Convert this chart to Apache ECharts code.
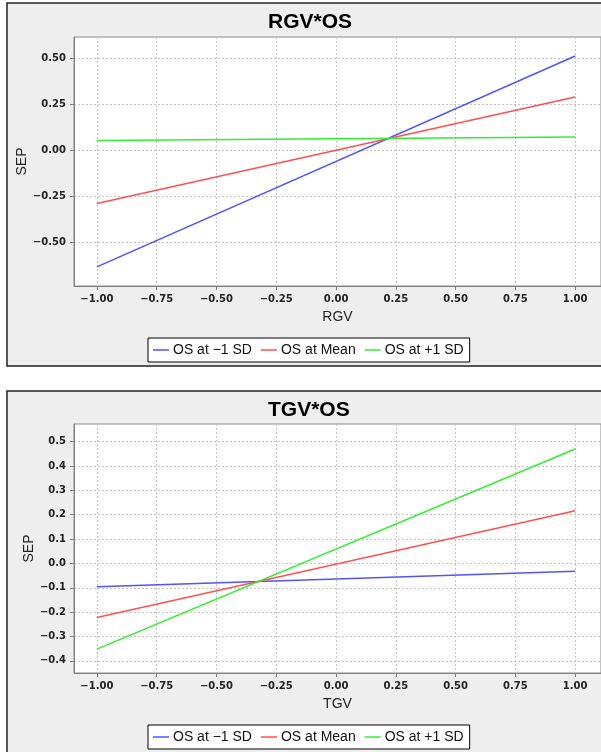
<!DOCTYPE html>
<html>
<head>
<meta charset="utf-8">
<script src="https://cdn.jsdelivr.net/npm/echarts@6/dist/echarts.min.js"></script>
<style>
  html, body { margin: 0; padding: 0; background: #fff; }
  #chart { width: 601px; height: 752px; }
</style>
</head>
<body>
<div id="chart"></div>
<script>
// line end points, x = -1 and x = 1
const xValues = [-1, 1];
const seriesNames = ["OS at \u22121 SD", "OS at Mean", "OS at +1 SD"];
const seriesColors = ["#5252ff", "#ff5050", "#2ef02e"];

// RGV*OS panel
const rgvLow = [-0.633, 0.511];
const rgvMean = [-0.289, 0.289];
const rgvHigh = [0.053, 0.072];

// TGV*OS panel
const tgvLow = [-0.096, -0.032];
const tgvMean = [-0.222, 0.216];
const tgvHigh = [-0.352, 0.47];

// tick labels
const xTicks = [-1, -0.75, -0.5, -0.25, 0, 0.25, 0.5, 0.75, 1];
const rgvYTicks = [-0.5, -0.25, 0, 0.25, 0.5];
const tgvYTicks = [-0.4, -0.3, -0.2, -0.1, 0, 0.1, 0.2, 0.3, 0.4, 0.5];

function fmt(digits) {
  return function (v) {
    const s = Math.abs(v).toFixed(digits);
    return v < -1e-9 ? "\u2212" + s : s;
  };
}

const tickFont = { fontFamily: "DejaVu Sans", fontWeight: "bold", fontSize: 10, color: "#222" };
const nameFont = { fontFamily: "Liberation Sans", fontSize: 14, color: "#222" };
const gridLine = { lineStyle: { color: "#c4c4c4", type: [2, 2], width: 1 } };

function makeX(gridIndex, name) {
  return {
    type: "value",
    gridIndex: gridIndex,
    min: -1.0956,
    max: 1.108,
    name: name,
    nameLocation: "middle",
    nameGap: 24,
    nameMoveOverlap: false,
    nameTextStyle: nameFont,
    axisLine: { show: true, onZero: false, lineStyle: { color: "#808080" } },
    axisTick: { show: true, length: 4, customValues: xTicks, lineStyle: { color: "#808080" } },
    axisLabel: Object.assign({ customValues: xTicks, margin: 8, formatter: fmt(2) }, tickFont),
    splitLine: Object.assign({ show: true }, gridLine),
  };
}

function makeY(gridIndex, min, max, ticks, digits, gap) {
  return {
    type: "value",
    gridIndex: gridIndex,
    min: min,
    max: max,
    name: "SEP",
    nameLocation: "middle",
    nameGap: gap,
    nameRotate: 90,
    nameMoveOverlap: false,
    nameTextStyle: nameFont,
    axisLine: { show: true, onZero: false, lineStyle: { color: "#808080" } },
    axisTick: { show: true, length: 4, customValues: ticks, lineStyle: { color: "#808080" } },
    axisLabel: Object.assign({ customValues: ticks, margin: 8, formatter: fmt(digits) }, tickFont),
    splitLine: Object.assign({ show: true }, gridLine),
  };
}

function line(name, color, values, axisIndex) {
  return {
    name: name,
    type: "line",
    xAxisIndex: axisIndex,
    yAxisIndex: axisIndex,
    data: xValues.map((x, i) => [x, values[i]]),
    symbol: "none",
    silent: true,
    lineStyle: { color: color, width: 1.5 },
    itemStyle: { color: color },
  };
}

function legendAt(top) {
  return {
    left: 148,
    top: top,
    data: seriesNames,
    icon: "rect",
    itemWidth: 16,
    itemHeight: 1.5,
    itemGap: 9,
    padding: [5, 6, 5, 5],
    backgroundColor: "#fff",
    borderColor: "#000",
    borderWidth: 1,
    borderRadius: 0,
    selectedMode: false,
    textStyle: { fontFamily: "Liberation Sans", fontSize: 14, color: "#111", padding: [0, 0, 0, -1] },
  };
}

const titleFont = { fontFamily: "Liberation Sans", fontWeight: "bold", fontSize: 21, color: "#000" };

const chart = echarts.init(document.getElementById("chart"), null, { renderer: "canvas" });

chart.setOption({
  animation: false,
  backgroundColor: "#fff",
  graphic: [
    { type: "rect", z: -10, shape: { x: 7, y: 3, width: 610, height: 363 },
      style: { fill: "#eeeeee", stroke: "#222", lineWidth: 1.5 } },
    { type: "rect", z: -10, shape: { x: 7, y: 391, width: 610, height: 380 },
      style: { fill: "#eeeeee", stroke: "#222", lineWidth: 1.5 } },
  ],
  title: [
    { text: "RGV*OS", left: 263, top: 7, textStyle: titleFont },
    { text: "TGV*OS", left: 263, top: 395, textStyle: titleFont },
  ],
  legend: [legendAt(338), legendAt(725)],
  grid: [
    { left: 74, top: 37, width: 530, height: 249, show: true, backgroundColor: "#fff", borderColor: "#8a8a8a", borderWidth: 1 },
    { left: 74, top: 424, width: 530, height: 249, show: true, backgroundColor: "#fff", borderColor: "#8a8a8a", borderWidth: 1 },
  ],
  xAxis: [makeX(0, "RGV"), makeX(1, "TGV")],
  yAxis: [
    makeY(0, -0.737, 0.614, rgvYTicks, 2, 45),
    makeY(1, -0.45, 0.5725, tgvYTicks, 1, 38),
  ],
  series: [
    line(seriesNames[0], seriesColors[0], rgvLow, 0),
    line(seriesNames[1], seriesColors[1], rgvMean, 0),
    line(seriesNames[2], seriesColors[2], rgvHigh, 0),
    line(seriesNames[0], seriesColors[0], tgvLow, 1),
    line(seriesNames[1], seriesColors[1], tgvMean, 1),
    line(seriesNames[2], seriesColors[2], tgvHigh, 1),
  ],
});
</script>
</body>
</html>
